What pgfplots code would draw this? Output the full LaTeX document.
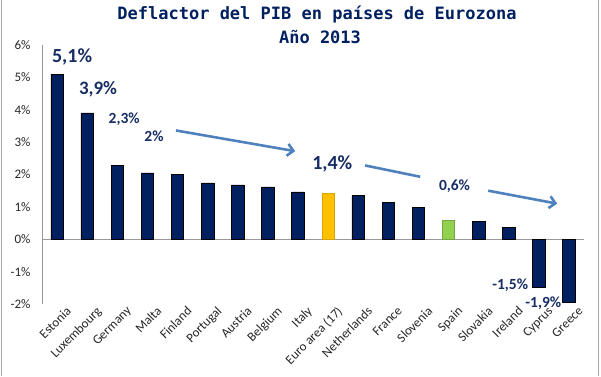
\documentclass[border=0pt]{standalone}
\usepackage{pgfplots}
\pgfplotsset{compat=1.18}
\usetikzlibrary{arrows.meta}
\usepackage{fontspec}
\setmainfont{Carlito}
\newfontfamily\titlefont{DejaVu Sans Mono}
\definecolor{barnavy}{RGB}{0,32,96}
\definecolor{labnavy}{RGB}{23,45,100}
\definecolor{euroyel}{RGB}{255,192,0}
\definecolor{spaingrn}{RGB}{146,208,80}
\definecolor{arrowblue}{RGB}{79,129,189}
\definecolor{titlenavy}{RGB}{0,32,96}
\pgfplotstableread{
x val
0 5.1
1 3.9
2 2.28
3 2.05
4 2.0
5 1.74
6 1.68
7 1.62
8 1.46
10 1.35
11 1.15
12 0.98
14 0.54
15 0.36
16 -1.48
17 -1.95
}\maindata
\pgfplotstableread{
x val
9 1.42
}\eurodata
\pgfplotstableread{
x val
13 0.6
}\spaindata
\begin{document}
\begin{tikzpicture}[x=1pt,y=1pt]
\useasboundingbox (0,0) rectangle (601,376);
\draw[gray!70, line width=1pt] (1.5,0) -- (1.5,376);
\draw[gray!70, line width=1pt] (598.5,0) -- (598.5,376);
\node[font=\titlefont\bfseries\fontsize{17}{19}\selectfont, text=titlenavy] at (317,362) {Deflactor del PIB en países de Eurozona};
\node[font=\titlefont\bfseries\fontsize{17}{19}\selectfont, text=titlenavy] at (320,339) {Año 2013};
\begin{axis}[
  at={(42pt,72pt)}, anchor=south west,
  scale only axis, width=542pt, height=259pt,
  xmin=-0.5, xmax=17.5, ymin=-2, ymax=6,
  axis x line=none,
  axis y line*=left,
  axis line style={gray!80, line width=0.8pt, -},
  clip=false,
  ytick={-2,-1,0,1,2,3,4,5,6},
  yticklabels={-2\%,-1\%,0\%,1\%,2\%,3\%,4\%,5\%,6\%},
  yticklabel style={font=\fontsize{13}{15}\selectfont, text=black!85, xshift=-8pt},
  major tick length=0pt,
  ybar, bar width=12.5pt,
]
\draw[gray!80, line width=0.8pt] (axis cs:-0.5,0) -- (axis cs:17.5,0);
\addplot[fill=barnavy, draw=black, line width=0.6pt, bar shift=0pt] table[x=x,y=val]{\maindata};
\addplot[fill=euroyel, draw=euroyel!85!black, line width=0.6pt, bar shift=0pt] table[x=x,y=val]{\eurodata};
\addplot[fill=spaingrn, draw=spaingrn!80!black, line width=0.6pt, bar shift=0pt] table[x=x,y=val]{\spaindata};
% category labels
\foreach \i/\n in {0/Estonia,1/Luxembourg,2/Germany,3/Malta,4/Finland,5/Portugal,6/Austria,7/Belgium,8/Italy,9/Euro area (17),10/Netherlands,11/France,12/Slovenia,13/Spain,14/Slovakia,15/Ireland,16/Cyprus,17/Greece}{
  \edef\temp{\noexpand\node[rotate=45, anchor=north east, inner sep=0pt, font=\noexpand\fontsize{13}{15}\noexpand\selectfont, text=black!85] at (axis cs:\i,-2) [yshift=-7pt, xshift=5pt] {\n};}
  \temp
}
% data labels
\begin{scope}[every node/.style={text=labnavy, font=\bfseries}]
\node[font=\bfseries\fontsize{20}{22}\selectfont] at (axis cs:0.5,5.62) {5,1\%};
\node[font=\bfseries\fontsize{19}{21}\selectfont] at (axis cs:1.36,4.63) {3,9\%};
\node[font=\bfseries\fontsize{15.5}{17}\selectfont] at (axis cs:2.23,3.70) {2,3\%};
\node[font=\bfseries\fontsize{15.5}{17}\selectfont] at (axis cs:3.22,3.17) {2\%};
\node[font=\bfseries\fontsize{20}{22}\selectfont] at (axis cs:9.14,2.34) {1,4\%};
\node[font=\bfseries\fontsize{15.5}{17}\selectfont] at (axis cs:13.2,1.63) {0,6\%};
\node[font=\bfseries\fontsize{15.5}{17}\selectfont] at (axis cs:15.05,-1.41) {-1,5\%};
\node[font=\bfseries\fontsize{15.5}{17}\selectfont] at (axis cs:16.15,-1.99) {-1,9\%};
\end{scope}
% arrows
\draw[arrowblue, line width=2.6pt, -{Straight Barb[length=6pt,width=12pt]}] (axis cs:3.95,3.36) -- (axis cs:7.91,2.72);
\draw[arrowblue, line width=2.6pt] (axis cs:10.23,2.28) -- (axis cs:12.06,1.93);
\draw[arrowblue, line width=2.6pt, -{Straight Barb[length=6pt,width=12pt]}] (axis cs:14.32,1.50) -- (axis cs:16.61,1.10);
\end{axis}
\end{tikzpicture}
\end{document}
